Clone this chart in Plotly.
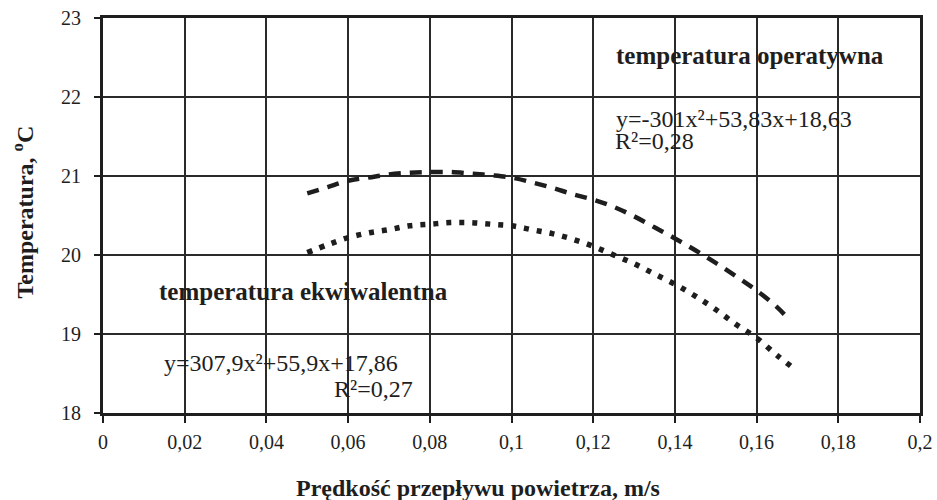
import plotly.graph_objects as go

# Data
x_oper = [0.050, 0.055, 0.060, 0.065, 0.070, 0.075, 0.080, 0.085, 0.090, 0.095,
          0.100, 0.105, 0.110, 0.115, 0.120, 0.125, 0.130, 0.135, 0.140, 0.145,
          0.150, 0.155, 0.160, 0.165, 0.168]
y_oper = [20.78, 20.86, 20.94, 20.98, 21.02, 21.04, 21.05, 21.05, 21.03, 21.01,
          20.98, 20.92, 20.85, 20.77, 20.70, 20.61, 20.49, 20.35, 20.21, 20.06,
          19.90, 19.73, 19.55, 19.34, 19.18]

x_ekw = [0.050, 0.055, 0.060, 0.065, 0.070, 0.075, 0.080, 0.085, 0.090, 0.095,
         0.100, 0.105, 0.110, 0.115, 0.120, 0.125, 0.130, 0.135, 0.140, 0.145,
         0.150, 0.155, 0.160, 0.165, 0.169]
y_ekw = [20.03, 20.13, 20.22, 20.28, 20.32, 20.37, 20.39, 20.41, 20.41, 20.39,
         20.37, 20.32, 20.27, 20.20, 20.11, 20.00, 19.89, 19.76, 19.63, 19.48,
         19.31, 19.12, 18.95, 18.73, 18.57]

x_tickvals = [0, 0.02, 0.04, 0.06, 0.08, 0.1, 0.12, 0.14, 0.16, 0.18, 0.2]
x_ticktext = ["0", "0,02", "0,04", "0,06", "0,08", "0,1", "0,12", "0,14", "0,16", "0,18", "0,2"]
y_tickvals = [18, 19, 20, 21, 22, 23]
y_ticktext = ["18", "19", "20", "21", "22", "23"]

label_oper = "temperatura operatywna"
eq_oper = "y=-301x²+53,83x+18,63"
r2_oper = "R²=0,28"
label_ekw = "temperatura ekwiwalentna"
eq_ekw = "y=307,9x²+55,9x+17,86"
r2_ekw = "R²=0,27"
x_title = "Prędkość przepływu powietrza, m/s"
y_title = "Temperatura, <sup>o</sup>C"

SERIF = "Liberation Serif"
INK = "#1e1e1e"

fig = go.Figure()
fig.add_trace(go.Scatter(
    x=x_oper, y=y_oper, mode="lines", line_shape="spline",
    line=dict(color=INK, width=4.5, dash="12px,9px"), showlegend=False))
fig.add_trace(go.Scatter(
    x=x_ekw, y=y_ekw, mode="lines", line_shape="spline",
    line=dict(color=INK, width=5.5, dash="5px,8px"), showlegend=False))

ann = []
ann.append(dict(x=0.1251, y=22.53, xref="x", yref="y", text="<b>" + label_oper + "</b>",
                xanchor="left", yanchor="middle", showarrow=False,
                font=dict(family=SERIF, size=25, color=INK)))
ann.append(dict(x=0.1251, y=21.72, xref="x", yref="y", text=eq_oper,
                xanchor="left", yanchor="middle", showarrow=False,
                font=dict(family=SERIF, size=24, color=INK)))
ann.append(dict(x=0.1248, y=21.44, xref="x", yref="y", text=r2_oper,
                xanchor="left", yanchor="middle", showarrow=False,
                font=dict(family=SERIF, size=24, color=INK)))
ann.append(dict(x=0.0132, y=19.54, xref="x", yref="y", text="<b>" + label_ekw + "</b>",
                xanchor="left", yanchor="middle", showarrow=False,
                font=dict(family=SERIF, size=25, color=INK)))
ann.append(dict(x=0.0144, y=18.63, xref="x", yref="y", text=eq_ekw,
                xanchor="left", yanchor="middle", showarrow=False,
                font=dict(family=SERIF, size=24, color=INK)))
ann.append(dict(x=0.0764, y=18.30, xref="x", yref="y", text=r2_ekw,
                xanchor="right", yanchor="middle", showarrow=False,
                font=dict(family=SERIF, size=24, color=INK)))
ann.append(dict(x=0.459, y=-0.19, xref="paper", yref="paper", text="<b>" + x_title + "</b>",
                xanchor="center", yanchor="middle", showarrow=False,
                font=dict(family=SERIF, size=24, color=INK)))
ann.append(dict(x=-0.098, y=0.51, xref="paper", yref="paper", text="<b>" + y_title + "</b>",
                xanchor="center", yanchor="middle", showarrow=False, textangle=-90,
                font=dict(family=SERIF, size=24, color=INK)))

fig.update_layout(
    width=937, height=500,
    margin=dict(l=103, r=17, t=18, b=87),
    paper_bgcolor="white", plot_bgcolor="white",
    annotations=ann,
    xaxis=dict(range=[0, 0.2], tickvals=x_tickvals, ticktext=x_ticktext,
               automargin=False, ticklabeloverflow="allow",
               showgrid=True, gridcolor="#2a2a2a", gridwidth=2,
               showline=True, linecolor=INK, linewidth=3, mirror=True,
               ticks="outside", ticklen=7, tickwidth=2, tickcolor=INK,
               ticklabelstandoff=2,
               tickfont=dict(family=SERIF, size=20, color=INK), zeroline=False),
    yaxis=dict(range=[18, 23], tickvals=y_tickvals, ticktext=y_ticktext,
               automargin=False, ticklabeloverflow="allow",
               showgrid=True, gridcolor="#2a2a2a", gridwidth=2,
               showline=True, linecolor=INK, linewidth=3, mirror=True,
               ticks="outside", ticklen=6, tickwidth=2, tickcolor=INK,
               ticklabelstandoff=9,
               tickfont=dict(family=SERIF, size=20, color=INK), zeroline=False),
)

# remove the browser's default 8px body margin so the figure fills the window exactly
fig.write_html("out.html",
               config={"displayModeBar": False},
               post_script="document.body.style.margin='0px';document.body.style.overflow='hidden';")
